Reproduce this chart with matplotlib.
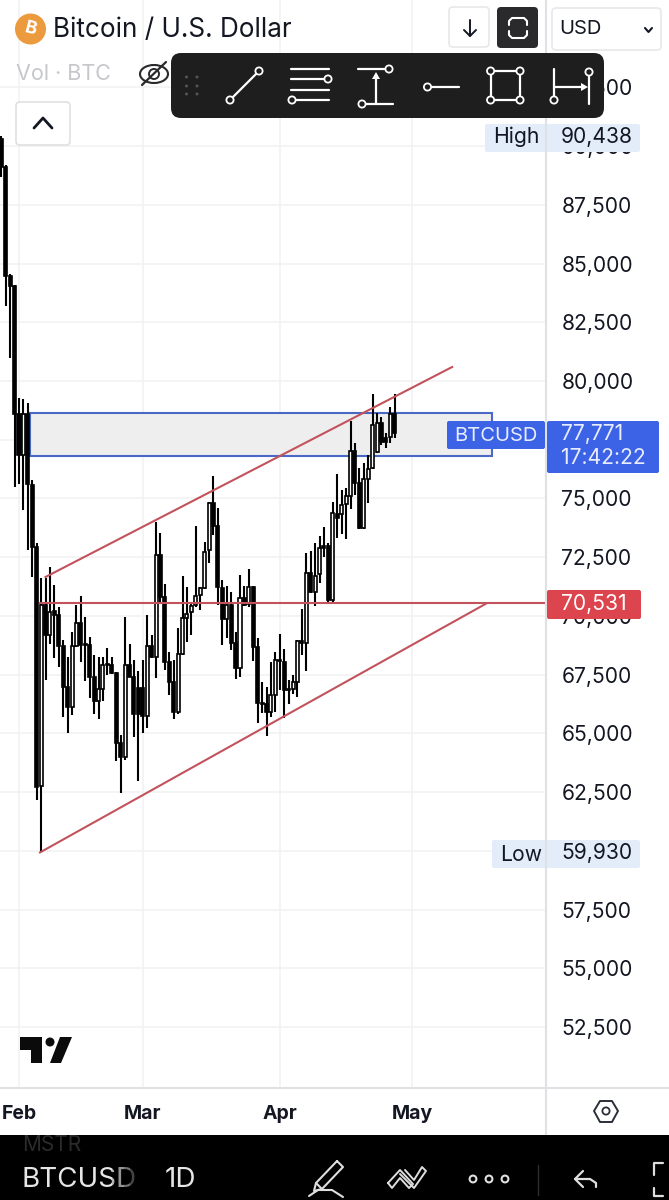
import pandas as pd
import matplotlib
matplotlib.use("Agg")
import matplotlib.pyplot as plt
import matplotlib.dates as mdates
from matplotlib.patches import FancyBboxPatch, Rectangle, Circle, Polygon, Ellipse

# daily candles, first one is Jan 28
opens = [90300,89110,84470,84040,78600,76850,78600,75570,72930,62760,70460,69190,70210,70040,68720,66970,66120,68720,69700,68800,
         68760,67400,66380,66890,67950,67910,67570,64590,63990,67910,67400,66930,66930,65740,68720,68250,72590,70810,68040,67190,
         65910,68380,69910,70170,70460,70890,71190,72800,74810,73830,71190,69870,70460,68850,67780,70760,70510,71230,68680,66290,
         66250,65910,66630,68120,68040,66890,66890,67190,68930,68850,71830,71020,71780,72980,72980,70680,74340,74340,74760,75100,
         77020,75660,73740,75830,76290,76980,78210,77570,77620,78600]
highs = [90438,89200,84560,84080,79280,79230,79060,75800,73100,71610,71610,72080,71320,70380,68970,68250,69320,70460,70850,69950,
         69100,68340,68250,68250,68630,68250,67610,64930,69950,68800,68120,67660,68120,70040,69190,74000,73530,71360,68460,68120,
         69490,71700,71230,70500,73830,71230,73150,74850,75960,74590,71530,71270,71020,69300,71740,71270,72000,71270,69060,67190,
         66970,68040,68460,69230,68590,67270,67480,68970,70290,72680,72760,73100,73400,73790,73100,74850,76040,75360,75450,78300,
         77360,76300,76510,76850,79450,78640,78470,77790,78890,79450]
lows = [88680,83190,80980,75490,75620,74510,72800,71660,62160,59930,67270,68800,68210,67830,65700,65020,65780,68680,68040,67230,
        66500,65820,65610,66380,67480,67530,63820,62460,63870,67400,64850,62970,65020,65230,68200,67360,70590,67700,66630,65610,
        65820,68340,68890,69190,70380,70250,71150,72250,73440,70460,68760,69060,68550,67310,67400,70420,70380,68080,65440,65870,
        64890,65700,65910,66850,65650,66250,66680,66550,68340,67660,70980,70420,71400,72510,70510,70550,73320,73490,73270,74550,
        75150,73700,73700,74810,76250,76940,77280,77150,77360,77570]
closes = [89110,84470,84040,78600,76850,78600,75620,72930,62720,70460,69190,70170,70040,68720,66970,66120,68720,69700,68760,68760,
          67400,66380,66890,67910,67910,67570,64590,63990,67910,67400,65820,65820,65740,68720,68250,72590,70810,68040,67190,65910,
          68380,69910,70080,70420,70850,71190,72720,74810,73830,71230,69870,70460,68850,67780,70760,70460,71230,68680,66290,66250,
          65910,66630,68120,68080,66850,66850,67190,68930,68850,71830,71020,71700,72890,72890,70680,74380,74170,74720,75100,77020,
          75660,73740,75830,76250,78130,78210,77400,77400,78600,77771]

price_ticks = [52500,55000,57500,60000,62500,65000,67500,70000,72500,75000,77500,80000,82500,85000,87500,90000,92500]
month_ticks = ["2026-02-01", "2026-03-01", "2026-04-01", "2026-05-01"]
month_labels = ["Feb", "Mar", "Apr", "May"]

level = 70531
last_price = "77,771"
countdown = "17:42:22"
high_label = "90,438"
low_label = "59,930"

# zone and channel drawn on the chart (date, price)
zone_dates = ["2026-02-03 12:00", "2026-05-19 00:00"]
zone_prices = [76807, 78638]
upper_dates = ["2026-02-07", "2026-05-10"]
upper_prices = [71656, 80596]
lower_dates = ["2026-02-05 18:00", "2026-05-17 18:00"]
lower_prices = [59930, 70531]

plt.rcParams['font.family'] = ['Inter', 'DejaVu Sans']

dates = pd.date_range("2026-01-28", periods=len(opens))
df = pd.DataFrame({"o": opens, "h": highs, "l": lows, "c": closes}, index=dates)

fig = plt.figure(figsize=(6.69, 12), dpi=100, facecolor="white")
ax = fig.add_axes([0, 113 / 1200, 546 / 669, 1087 / 1200])

x = mdates.date2num(df.index)
up = df["c"] >= df["o"]
grid_col = "#f1f1f3"
axis_col = "#e0e1e4"
label_size = 15.2

# zone goes under the candles
zx = mdates.date2num(pd.to_datetime(zone_dates))
ax.add_patch(Rectangle((zx[0], zone_prices[0]), zx[1] - zx[0], zone_prices[1] - zone_prices[0],
                       facecolor="#eeeeee", edgecolor="#4a68c6", lw=1.5, zorder=1.5))

# candles
ax.vlines(x, df["l"], df["h"], color="black", lw=1.5, zorder=3)
bottoms = df[["o", "c"]].min(axis=1)
heights = (df["o"] - df["c"]).abs()
ax.bar(x, heights, 0.68, bottom=bottoms, color=["white" if u else "black" for u in up],
       edgecolor="black", lw=1.2, zorder=4)

# red lines
red = "#c2525c"
ax.plot(mdates.date2num(pd.to_datetime(upper_dates)), upper_prices, color=red, lw=1.5, zorder=5)
ax.plot(mdates.date2num(pd.to_datetime(lower_dates)), lower_prices, color=red, lw=1.5, zorder=5)
ax.plot([mdates.date2num(pd.Timestamp("2026-02-05 18:00")), 99999], [level, level], color=red, lw=1.5, zorder=5)

ax.set_xlim(x[4] - 19 / 4.42, x[4] + 527 / 4.42)
ax.set_ylim(49945, 96219)
ax.set_xticks(mdates.date2num(pd.to_datetime(month_ticks)))
ax.set_xticklabels(month_labels, fontsize=14, fontweight="bold", color="#131722")
ax.set_yticks(price_ticks)
# the 77,500 label sits fully under the blue price tag
ax.set_yticklabels(["" if p == 77500 else f"{p:,}" for p in price_ticks], fontsize=label_size, color="#131722")
ax.yaxis.tick_right()
ax.tick_params(axis="x", length=0, pad=13)
ax.tick_params(axis="y", length=0, pad=11)
ax.grid(True, color=grid_col, lw=1.1, zorder=0)
ax.set_axisbelow(True)
for s in ["top", "left", "right", "bottom"]:
    ax.spines[s].set_visible(False)

# everything from the app around the chart, in screen pixels
ui = fig.add_axes([0, 0, 1, 1], zorder=10)
ui.set_xlim(0, 669)
ui.set_ylim(1200, 0)
ui.axis("off")


def box(x0, y0, x1, y1, col, edge="none", r=4, z=2, lw=1.2):
    ui.add_patch(FancyBboxPatch((x0 + r, y0 + r), x1 - x0 - 2 * r, y1 - y0 - 2 * r,
                                boxstyle=f"round,pad={r}", fc=col, ec=edge, lw=lw, zorder=z))


def ring(cx, cy, r=3.6, col="white", bg="#1e1e1e"):
    ui.add_patch(Circle((cx, cy), r, fc=bg, ec=col, lw=1.3, zorder=6))


def line(xs, ys, col="white", lw=1.6, z=5):
    ui.plot(xs, ys, color=col, lw=lw, zorder=z, solid_capstyle="round", solid_joinstyle="round")


# scale borders
ui.plot([545.6, 545.6], [0, 1135], color=axis_col, lw=1.5, zorder=1)
ui.plot([0, 669], [1087.5, 1087.5], color=axis_col, lw=1.5, zorder=1)

# header
ui.add_patch(Circle((30.5, 29), 15.5, fc="#ec9a3e", ec="none", zorder=3))
ui.text(30.5, 29, "B", color="white", fontsize=13, fontweight="bold", ha="center", va="center", rotation=-14, zorder=4)
ui.text(53, 30, "Bitcoin / U.S. Dollar", fontsize=18.8, color="#131722", va="center", zorder=4)
ui.text(16, 74, "Vol · BTC", fontsize=15.5, color="#c6c7cb", va="center", zorder=4)

box(449, 7, 489, 47, "white", "#e8e8ea")
line([470, 470], [20, 36], "#131722", 1.4)
line([464, 470, 476], [30, 36, 30], "#131722", 1.4)
box(497, 7, 538, 48, "#2a2a2c")
line([509, 509, 512, 524, 527, 527], [25, 21, 18, 18, 21, 25], "white", 1.5)
line([509, 509, 512, 524, 527, 527], [31, 35, 38, 38, 35, 31], "white", 1.5)
box(552, 8, 661, 50, "white", "#e8e8ea")
ui.text(559, 29, "USD", fontsize=14.5, color="#131722", va="center", zorder=4)
line([645, 648.5, 652], [28, 32, 28], "#131722", 1.5)

# hidden eye
ui.add_patch(Ellipse((154, 74), 28, 18, fc="white", ec="#2a2a2c", lw=1.5, zorder=3))
ui.add_patch(Circle((154, 74), 5, fc="white", ec="#2a2a2c", lw=1.4, zorder=3))
line([142, 166], [85, 62], "#2a2a2c", 1.6, 3)

box(16, 102, 70, 145, "white", "#e0e0e3")
line([34, 43, 52], [128, 118, 128], "#131722", 2)

# drawing toolbar
box(171, 53, 604, 118, "#1e1e1e", r=10, z=4)
for dx in [186.5, 197]:
    for dy in [77, 86, 94]:
        ui.add_patch(Circle((dx, dy), 1.5, fc="#555555", ec="none", zorder=5))
line([230, 259], [100, 71])
ring(230, 100)
ring(259, 71)
for yy, xa, xb in [(69, 291, 329), (79, 291, 328), (90, 291, 329), (100, 292, 329)]:
    line([xa, xb], [yy, yy])
ring(328, 79)
ring(292, 100)
line([358, 389], [69, 69])
line([362, 393], [104, 104])
line([376, 376], [104, 76])
ui.add_patch(Polygon([[376, 72], [372, 79], [380, 79]], fc="white", zorder=6))
ring(389, 69)
ring(362, 104)
line([427, 459], [87, 87])
ring(427.5, 87)
line([490.6, 520, 520, 490.6, 490.6], [71, 71, 100, 100, 71])
for cx, cy in [(490.6, 71), (520, 71), (490.6, 100), (520, 100)]:
    ring(cx, cy)
line([554, 554], [69, 100])
line([589, 589], [72, 104])
line([554, 584], [87, 87])
ui.add_patch(Polygon([[588, 87], [581, 83], [581, 91]], fc="white", zorder=6))
ring(554, 100)
ring(589, 72)

# price tags
box(485, 124, 640, 152, "#e3edf9", r=2, z=2)
ui.text(493, 137, "High", fontsize=label_size, color="#131722", va="center", zorder=4)
ui.text(561, 137, high_label, fontsize=label_size, color="#131722", va="center", zorder=4)
ui.plot([545.6, 545.6], [124, 152], color=axis_col, lw=1.5, zorder=3)
box(492, 840, 640, 868, "#e3edf9", r=2, z=2)
ui.text(500, 855, "Low", fontsize=label_size, color="#131722", va="center", zorder=4)
ui.text(561, 853, low_label, fontsize=label_size, color="#131722", va="center", zorder=4)
ui.plot([545.6, 545.6], [840, 868], color=axis_col, lw=1.5, zorder=3)

blue = "#3c62e6"
box(447, 421, 545, 449, blue, r=2)
ui.text(454, 436, "BTCUSD", fontsize=14.5, color="#e8edfd", va="center", zorder=4)
box(547, 421, 659, 473, blue, r=2)
ui.text(561, 434, last_price, fontsize=label_size, color="#e8edfd", va="center", zorder=4)
ui.text(561, 458, countdown, fontsize=label_size, color="#e8edfd", va="center", zorder=4)
box(547, 590, 641, 619, "#dc444e", r=2)
ui.text(561, 604, "70,531", fontsize=label_size, color="white", va="center", zorder=4)

# tradingview logo
ui.add_patch(Polygon([[20, 1037], [42, 1037], [42, 1063], [31, 1063], [31, 1050], [20, 1050]], fc="#0b0b0b", zorder=3))
ui.add_patch(Circle((50, 1042), 4.5, fc="#0b0b0b", zorder=3))
ui.add_patch(Polygon([[60, 1037], [72, 1037], [61, 1063], [50, 1063]], fc="#0b0b0b", zorder=3))

# settings hexagon
ui.add_patch(Polygon([[594, 1111], [600, 1101], [612, 1101], [618, 1111], [612, 1122], [600, 1122]],
                     fc="white", ec="#2a2e39", lw=1.4, zorder=3, joinstyle="round"))
ui.add_patch(Circle((606, 1111), 3.6, fc="white", ec="#2a2e39", lw=1.3, zorder=4))

# black bar at the bottom
ui.add_patch(Rectangle((0, 1135), 669, 65, fc="black", ec="none", zorder=3))
ui.text(22, 1145, "MSTR", fontsize=15, color="#2b2b2b", va="center", zorder=4)
ui.text(21, 1180, "BTCUSD", fontsize=20, color="#e6e6e6", va="center", zorder=4)
# symbol fades out at the right
for fx, fa in [(112, 0.2), (118, 0.35), (124, 0.5), (130, 0.7)]:
    ui.add_patch(Rectangle((fx, 1165), 6, 30, fc="black", alpha=fa, ec="none", zorder=5))
ui.text(165, 1180, "1D", fontsize=20, color="#e6e6e6", va="center", zorder=4)

g = "#dedede"
# pencil
line([337, 343, 322, 316, 337], [1161, 1167, 1189, 1183, 1161], g, 1.5)
line([316, 314, 322], [1183, 1191, 1189], g, 1.5)
line([309, 318, 332, 343], [1196, 1190, 1190, 1197], g, 1.5)
# double chevrons
line([388, 400, 413, 409, 400, 392, 388], [1183, 1170, 1184, 1188, 1178, 1188, 1183], g, 1.4)
line([400, 414, 426, 422, 414, 405], [1174, 1188, 1171, 1167, 1180, 1170], g, 1.4)
for cx in [473, 489, 505]:
    ui.add_patch(Circle((cx, 1179), 3.4, fc="black", ec=g, lw=1.5, zorder=5))
line([537.5, 537.5], [1165, 1195], "#2e2e2e", 1)
# undo
line([583, 575, 583], [1171, 1179, 1187], g, 1.6)
line([575, 590, 596, 596], [1179, 1179, 1183, 1187], g, 1.6)
# corner bracket cut off by the edge
line([663, 654, 654], [1163, 1163, 1175], g, 1.6)
line([654, 654, 663], [1188, 1196, 1196], g, 1.6)

fig.savefig("out.png", dpi=100)
